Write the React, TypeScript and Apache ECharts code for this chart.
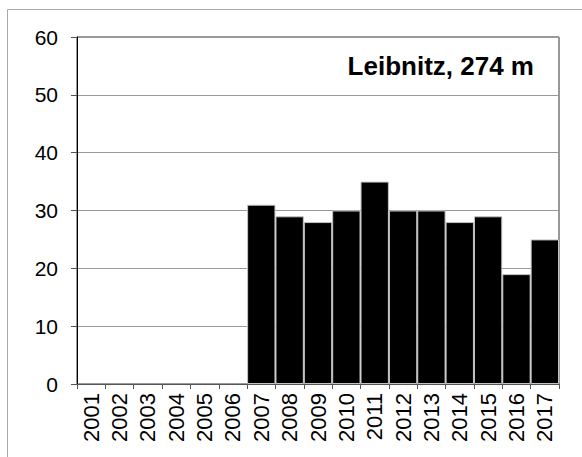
import React, { useEffect, useRef } from "react";
import * as echarts from "echarts";

const years = ["2001", "2002", "2003", "2004", "2005", "2006", "2007", "2008", "2009", "2010", "2011", "2012", "2013", "2014", "2015", "2016", "2017"];
const values: (number | null)[] = [null, null, null, null, null, null, 31, 29, 28, 30, 35, 30, 30, 28, 29, 19, 25];
const stationLabel = "Leibnitz, 274 m";
const yMin = 0;
const yMax = 60;
const yStep = 10;

const FONT = "'Liberation Sans', Arial, sans-serif";

export default function App() {
  const ref = useRef<HTMLDivElement>(null);
  useEffect(() => {
    if (!ref.current) return;
    const chart = echarts.init(ref.current, undefined, { renderer: "svg" });
    chart.setOption({
      animation: false,
      backgroundColor: "#fff",
      grid: {
        left: 77,
        top: 37,
        right: 23,
        bottom: 73,
        show: true,
        borderColor: "#333",
        borderWidth: 1,
        backgroundColor: "transparent",
      },
      xAxis: {
        type: "category",
        data: years,
        boundaryGap: true,
        axisLine: { show: true, lineStyle: { color: "#555", width: 1 } },
        axisTick: { show: true, interval: 0, length: 5, lineStyle: { color: "#555" } },
        axisLabel: {
          interval: 0,
          rotate: 90,
          fontSize: 22,
          fontFamily: FONT,
          color: "#000",
          margin: 9,
        },
        splitLine: { show: false },
      },
      yAxis: {
        type: "value",
        min: yMin,
        max: yMax,
        interval: yStep,
        axisLine: { show: true, lineStyle: { color: "#000", width: 1 } },
        axisTick: { show: true, length: 6, lineStyle: { color: "#555" } },
        axisLabel: {
          fontSize: 21,
          fontFamily: FONT,
          color: "#000",
          margin: 19,
        },
        splitLine: { show: true, lineStyle: { color: "#999", width: 1 } },
      },
      series: [
        {
          type: "bar",
          data: values,
          barCategoryGap: "0%",
          itemStyle: { color: "#000", borderColor: "#c4c4c4", borderWidth: 1 },
        },
      ],
      graphic: [
        {
          type: "rect",
          shape: { x: 7.5, y: 9.5, width: 700, height: 600 },
          style: { fill: "none", stroke: "#a8a8a8", lineWidth: 1 },
          silent: true,
        },
        {
          type: "text",
          x: 534,
          y: 66,
          style: {
            text: stationLabel,
            fontSize: 26,
            fontWeight: "bold",
            fontFamily: FONT,
            fill: "#000",
            textAlign: "right",
            textVerticalAlign: "middle",
          },
        },
      ],
    });
    return () => chart.dispose();
  }, []);
  return <div ref={ref} style={{ position: "fixed", left: 0, top: 0, width: 582, height: 457 }} />;
}
